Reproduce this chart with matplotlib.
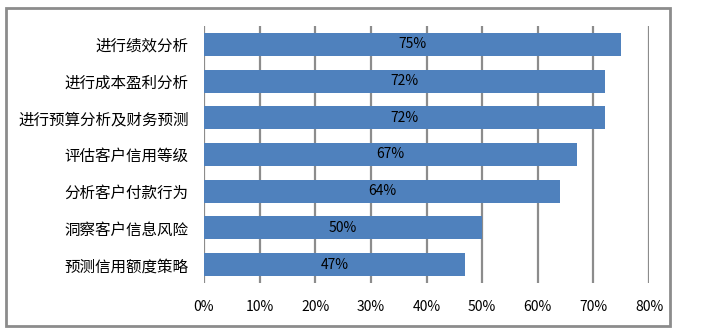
import matplotlib
matplotlib.use("Agg")
import matplotlib.pyplot as plt
from matplotlib.patches import Rectangle

categories = ["进行绩效分析", "进行成本盈利分析", "进行预算分析及财务预测",
              "评估客户信用等级", "分析客户付款行为", "洞察客户信息风险", "预测信用额度策略"]
values = [75, 72, 72, 67, 64, 50, 47]
xticks = [0, 10, 20, 30, 40, 50, 60, 70, 80]
xtick_labels = [f"{t}%" for t in xticks]

plt.rcParams['font.family'] = ['Noto Sans CJK SC', 'DejaVu Sans']

W, H = 703, 334
fig = plt.figure(figsize=(W / 100, H / 100), dpi=100)
ax = fig.add_axes([204 / W, 1 - 283 / H, (649 - 204) / W, (283 - 26) / H])

ypos = list(range(len(categories)))[::-1]
ax.barh(ypos, values, height=0.63, color="#4F81BD", zorder=3)
for y, v in zip(ypos, values):
    ax.text(v / 2, y, f"{v}%", ha="center", va="center", fontsize=10,
            color="black", zorder=4)

ax.set_xlim(0, 80)
ax.set_ylim(-0.5, len(categories) - 0.5)
ax.set_xticks(xticks)
ax.set_xticklabels(xtick_labels, fontsize=10)
ax.set_yticks(ypos)
ax.set_yticklabels(categories, fontsize=11.2)
ax.tick_params(axis="x", length=0, pad=12)
ax.tick_params(axis="y", length=0, pad=11)
ax.grid(axis="x", color="#8C8C8C", linewidth=1.6, zorder=1)
for s in ax.spines.values():
    s.set_visible(False)

fig.patches.append(Rectangle((6 / W, 1 - 326 / H), (670 - 6) / W, (326 - 8) / H,
                             transform=fig.transFigure, fill=False,
                             edgecolor="#8C8C8C", linewidth=2))

fig.savefig("out.png", dpi=100)
